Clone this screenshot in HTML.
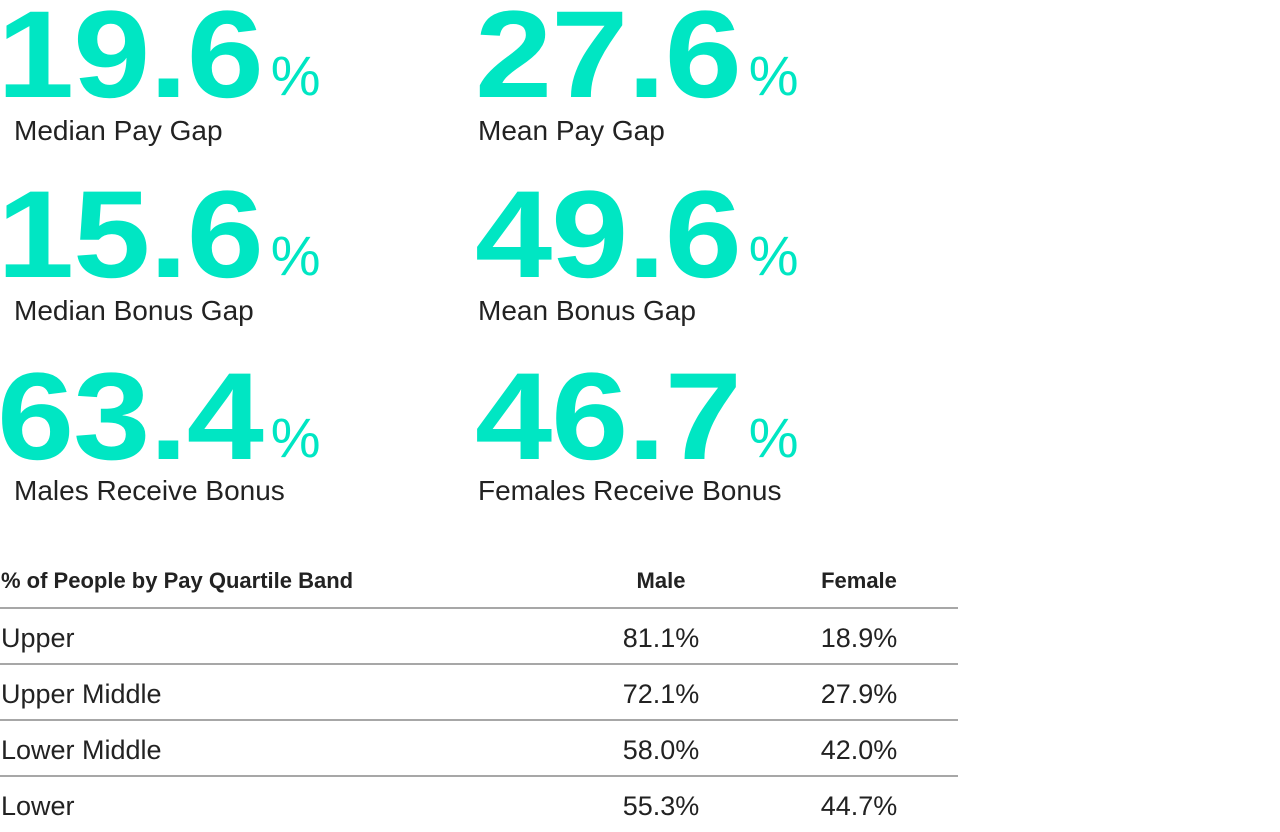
<!DOCTYPE html>
<html><head><meta charset="utf-8"><style>
html,body{margin:0;padding:0;background:#fff;width:1280px;height:832px;overflow:hidden}
svg{display:block}
text{font-family:"Liberation Sans",sans-serif}
</style></head><body>
<svg id="chart" width="1280" height="832" viewBox="0 0 1280 832"></svg>
<script>
const statValues = ["19.6","27.6","15.6","49.6","63.4","46.7"];
const statLabels = ["Median Pay Gap","Mean Pay Gap","Median Bonus Gap","Mean Bonus Gap","Males Receive Bonus","Females Receive Bonus"];
const bandNames = ["Upper","Upper Middle","Lower Middle","Lower"];
const maleShares = [81.1,72.1,58.0,55.3];
const femaleShares = [18.9,27.9,42.0,44.7];
const tableHeaders = ["% of People by Pay Quartile Band","Male","Female"];

const NS="http://www.w3.org/2000/svg";
const svg=document.getElementById('chart');
function mk(tag,attrs,txt){const e=document.createElementNS(NS,tag);for(const k in attrs)e.setAttribute(k,attrs[k]);if(txt!=null)e.textContent=txt;svg.appendChild(e);return e;}

const colX=[0,478], rowBase=[97,277,459], labBase=[140,320,500];
const SX=1.12;
statValues.forEach((v,i)=>{
  const cx=colX[i%2], r=Math.floor(i/2);
  const t=mk('text',{x:0,y:rowBase[r],'font-size':124,'font-weight':'bold',fill:'#00e6c3','letter-spacing':'-1',transform:`translate(${cx-3},0) scale(${SX},1)`},v);
  
  
  const w=t.getComputedTextLength()*SX;
  const p=mk('text',{x:cx-3+w+8,y:rowBase[r]-2,'font-size':56,fill:'#00e6c3'},'%');
  
  
  const l=mk('text',{x:cx+14-(i%2)*14,y:labBase[r],'font-size':28,fill:'#222'},statLabels[i]);
  
  
});

const maleX=661, femaleX=859;
const h0=mk('text',{x:1,y:588,'font-size':22,'font-weight':'bold',fill:'#222'},tableHeaders[0]);


const h1=mk('text',{x:maleX,y:588,'font-size':22,'font-weight':'bold',fill:'#222','text-anchor':'middle'},tableHeaders[1]);


const h2=mk('text',{x:femaleX,y:588,'font-size':22,'font-weight':'bold',fill:'#222','text-anchor':'middle'},tableHeaders[2]);



bandNames.forEach((b,i)=>{
  const ly=608+i*56;
  const ln=mk('line',{x1:0,x2:958,y1:ly,y2:ly,stroke:'#8a8a8a','stroke-width':1.5});
  
  
  const by=ly+39;
  const n=mk('text',{x:1,y:by,'font-size':27,fill:'#222'},b);
  
  
  const m=mk('text',{x:maleX,y:by,'font-size':27,fill:'#222','text-anchor':'middle'},maleShares[i].toFixed(1)+'%');
  
  
  const f=mk('text',{x:femaleX,y:by,'font-size':27,fill:'#222','text-anchor':'middle'},femaleShares[i].toFixed(1)+'%');
  
  
});
</script>
</body></html>
